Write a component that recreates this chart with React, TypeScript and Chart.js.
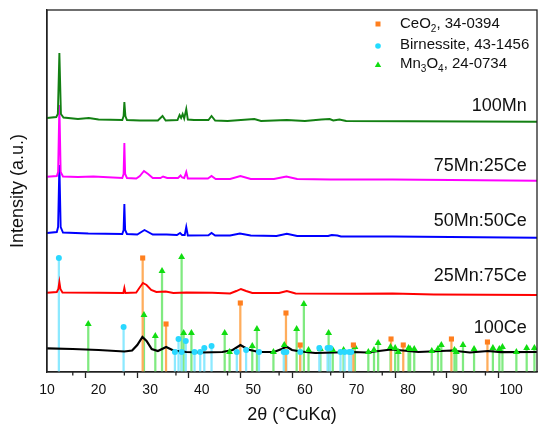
import { useEffect, useRef } from "react";
import { Chart, registerables } from "chart.js";

Chart.register(...registerables);

type Pt = [number, number];

// 2θ (deg), intensity (a.u., offset stacked)
const sampleNames = ["100Mn", "75Mn:25Ce", "50Mn:50Ce", "25Mn:75Ce", "100Ce"];

const mn100: Pt[] = [
  [10, 254], [11.8, 255], [12.1, 258], [12.4, 319], [12.7, 258], [13.2, 254.5], [16, 253],
  [18.1, 254], [20, 252.5], [24.6, 252], [24.85, 256], [25.0, 270], [25.2, 256], [25.5, 252],
  [28, 251.5], [31.5, 251.5], [32.4, 256], [33, 251.5], [35.3, 252], [35.7, 257], [36.0, 254],
  [36.3, 258], [36.6, 253.5], [37.0, 263], [37.3, 252.5], [38.5, 252], [41.3, 252], [41.9, 256],
  [42.6, 251.5], [45, 251], [50.2, 253], [51.5, 251], [56.5, 252], [60, 251], [63.2, 252.5],
  [64.8, 253], [65.5, 251.5], [66.7, 252.5], [68, 251], [80, 250.8], [105, 250.3],
];

const mn75ce25: Pt[] = [
  [10, 195.3], [11.9, 196], [12.15, 200], [12.4, 267], [12.65, 200], [13.1, 195.5], [16, 195],
  [19, 195.5], [24.6, 194], [24.85, 198], [25.0, 229], [25.15, 198], [25.5, 194], [27.3, 193.5],
  [28, 196], [28.8, 201], [29.6, 198], [30.5, 194], [32, 194], [32.5, 195.5], [33.3, 194],
  [35.4, 194], [35.9, 196.5], [36.2, 194.5], [36.6, 194], [37.0, 200], [37.3, 193.5], [41.2, 193.5],
  [41.9, 196], [42.7, 193], [45.5, 193], [47.5, 196], [49.5, 193], [54, 193], [56.4, 195.5],
  [58.5, 193], [65, 192.5], [77, 192.5], [105, 191.3],
];

const mn50ce50: Pt[] = [
  [10, 139], [11.9, 140], [12.15, 145], [12.4, 207], [12.65, 145], [13.1, 139.5], [18, 138.5],
  [24.6, 138], [24.85, 142], [25.0, 168], [25.15, 142], [25.5, 138], [27.5, 137.5], [28.9, 142],
  [30.5, 137.5], [33.2, 137.5], [35.2, 137], [35.8, 139], [36.2, 137], [36.7, 137], [37.0, 145],
  [37.3, 136.5], [41.3, 136.8], [41.9, 139], [42.6, 136.5], [45.5, 136.5], [47.4, 138.5],
  [49.5, 136.5], [54.5, 136], [56.5, 138.3], [58.5, 136], [64.5, 136], [65.2, 137], [66.3, 136.5],
  [67, 135.5], [77, 135.5], [105, 134.3],
];

const mn25ce75: Pt[] = [
  [10, 79.3], [11.9, 80], [12.2, 83], [12.4, 90], [12.6, 83], [13, 79.5], [20, 79.3], [24.8, 79],
  [25.0, 84], [25.2, 79], [27.3, 79.5], [27.9, 84], [28.6, 89], [29.3, 87], [30.2, 82], [31.2, 80],
  [33.0, 80.5], [34.5, 79], [37, 79.5], [42, 79.3], [45.5, 78.5], [46.7, 81], [47.6, 83], [48.6, 81],
  [49.8, 79], [55, 79], [56.5, 81], [58.2, 78.5], [70, 78.2], [77, 78.5], [85, 77.5], [105, 77],
];

const ce100: Pt[] = [
  [10, 23.7], [15, 23], [20, 22], [25, 20.5], [26.5, 21.5], [27.5, 27], [28.5, 35], [29.3, 31],
  [30.3, 23], [31.5, 21], [33.1, 25], [34.5, 21.5], [37, 20], [40, 19.5], [44, 20], [46, 22],
  [47.5, 27], [49, 22.5], [51, 20], [54, 20], [55.5, 23], [56.4, 25.5], [57.5, 22], [59.2, 20.5],
  [62, 19], [69.5, 20], [72, 19.5], [76.7, 22.5], [79, 21.5], [82, 20], [88.5, 21.5], [92, 19.5],
  [95.5, 21], [98, 19.8], [105, 20],
];

// reference patterns: position, relative height
const ceo2Ref: Pt[] = [
  [28.55, 114], [33.08, 48], [47.48, 69], [56.33, 59], [59.09, 27], [69.4, 27], [76.7, 33],
  [79.07, 27], [88.41, 33], [95.39, 30],
];

const birnessiteRef: Pt[] = [
  [12.3, 114], [24.85, 45], [34.8, 20], [35.5, 33], [36.1, 20], [36.9, 31], [38.6, 20], [39.7, 20],
  [40.5, 24], [41.9, 26], [46.8, 20], [48.6, 22], [51.1, 20], [55.9, 20], [56.4, 20], [59.1, 20],
  [62.8, 24], [64.4, 24], [64.9, 24], [66.9, 20], [67.7, 20], [68.6, 20], [69.0, 20],
];

const mn3o4Ref: Pt[] = [
  [18.0, 48], [28.8, 57], [31.0, 36], [32.3, 101], [36.1, 115], [36.5, 39], [38.0, 39], [44.45, 39],
  [45.4, 20], [49.8, 26], [50.7, 43], [53.9, 20], [56.0, 27], [58.4, 43], [59.8, 68], [60.7, 22],
  [63.0, 23], [64.6, 39], [65.4, 22], [67.5, 22], [69.7, 25], [72.3, 20], [73.4, 22], [74.2, 29],
  [76.6, 25], [77.5, 24], [78.1, 20], [80.1, 24], [80.4, 23], [81.2, 23], [84.6, 21], [85.8, 23],
  [86.45, 27], [89.0, 22], [89.35, 20], [90.65, 27], [92.8, 23], [96.45, 24], [97.7, 23], [98.3, 25],
  [101.0, 20], [103.0, 24], [104.5, 24],
];

const xTickLabels = [10, 20, 30, 40, 50, 60, 70, 80, 90, 100];

const FONT = "'Liberation Sans', Arial, sans-serif";
const traceColors = ["#138013", "#ff00ff", "#0000ff", "#ff0000", "#000000"];
const traceWidths = [1.9, 1.9, 1.9, 1.9, 2.2];
const labelY = [266, 206, 151, 96, 44];

const toXY = (pts: Pt[]) => pts.map(([x, y]) => ({ x, y }));

const legendRows = [
  { parts: [["CeO"], ["2", "sub"], [", 34-0394"]], color: "#ff7f1e", shape: "rect" },
  { parts: [["Birnessite, 43-1456"]], color: "#22dcff", shape: "circle" },
  { parts: [["Mn"], ["3", "sub"], ["O"], ["4", "sub"], [", 24-0734"]], color: "#10dd10", shape: "triangle" },
];

const decorPlugin = {
  id: "decor",
  afterDraw(chart: any) {
    const { ctx, chartArea: a, scales } = chart;
    const xs = scales.x;
    const ys = scales.y;
    ctx.save();
    // frame
    ctx.strokeStyle = "#222";
    ctx.lineWidth = 1.3;
    ctx.strokeRect(a.left, a.top, a.right - a.left, a.bottom - a.top);
    // minor ticks
    xTickLabels.forEach((v) => {
      if (v + 5 > 100) return;
      const px = xs.getPixelForValue(v + 5);
      ctx.beginPath();
      ctx.moveTo(px, a.bottom);
      ctx.lineTo(px, a.bottom + 3.5);
      ctx.stroke();
    });
    // sample labels
    ctx.fillStyle = "#111";
    ctx.font = `18px ${FONT}`;
    ctx.textAlign = "right";
    ctx.textBaseline = "middle";
    sampleNames.forEach((name, i) => {
      ctx.fillText(name, xs.getPixelForValue(103), ys.getPixelForValue(labelY[i]));
    });
    // legend
    ctx.textAlign = "left";
    const rowY = [24, 45, 64];
    legendRows.forEach((row, i) => {
      const y = rowY[i];
      const mx = 378;
      ctx.fillStyle = row.color;
      ctx.beginPath();
      if (row.shape === "rect") ctx.rect(mx - 2.5, y - 2.5, 5, 5);
      else if (row.shape === "circle") ctx.arc(mx, y + 1, 2.8, 0, Math.PI * 2);
      else {
        ctx.moveTo(mx, y - 2.5);
        ctx.lineTo(mx + 3.2, y + 3);
        ctx.lineTo(mx - 3.2, y + 3);
        ctx.closePath();
      }
      ctx.fill();
      ctx.fillStyle = "#111";
      let tx = 400;
      row.parts.forEach(([t, kind]) => {
        const sub = kind === "sub";
        ctx.font = sub ? `10px ${FONT}` : `15px ${FONT}`;
        ctx.fillText(t, tx, sub ? y + 5 : y);
        tx += ctx.measureText(t).width;
      });
    });
    ctx.restore();
  },
};

function App() {
  const canvasRef = useRef<HTMLCanvasElement | null>(null);

  useEffect(() => {
    if (!canvasRef.current) return;
    const traces = [mn100, mn75ce25, mn50ce50, mn25ce75, ce100];
    const refs: [Pt[], string, string, string, number][] = [
      [ceo2Ref, "#ffad5c", "#ff7f1e", "rect", 3.6],
      [birnessiteRef, "#8ce9ff", "#2ad8ff", "circle", 3],
      [mn3o4Ref, "#80ea80", "#11dd11", "triangle", 4],
    ];
    const datasets: any[] = [];
    refs.forEach(([pts, , mark, shape, r], i) => {
      datasets.push({
        type: "scatter",
        data: toXY(pts),
        pointStyle: shape,
        pointRadius: r,
        pointBackgroundColor: mark,
        pointBorderWidth: 0,
        order: i,
      });
    });
    traces.forEach((pts, i) => {
      datasets.push({
        type: "line",
        label: sampleNames[i],
        data: toXY(pts),
        borderColor: traceColors[i],
        borderWidth: traceWidths[i],
        pointRadius: 0,
        tension: 0,
        order: 3 + i,
      });
    });
    refs.forEach(([pts, stem], i) => {
      datasets.push({
        type: "bar",
        data: toXY(pts),
        backgroundColor: stem,
        barThickness: 1.6,
        grouped: false,
        order: 8 + i,
      });
    });

    const chart = new Chart(canvasRef.current, {
      type: "line",
      data: { datasets },
      options: {
        animation: false,
        responsive: true,
        maintainAspectRatio: false,
        layout: { padding: { top: 10, right: 13, left: 0, bottom: 0 } },
        plugins: { legend: { display: false }, tooltip: { enabled: false } },
        scales: {
          x: {
            type: "linear",
            min: 10,
            max: 105,
            offset: false,
            afterFit: (s: any) => {
              s.height = 67;
            },
            grid: {
              drawOnChartArea: false,
              tickLength: 6,
              tickWidth: 1.3,
              tickColor: (c: any) => (xTickLabels.includes(c.tick?.value) ? "#222" : "transparent"),
            },
            border: { color: "#222", width: 1.3 },
            ticks: {
              stepSize: 5,
              autoSkip: false,
              maxRotation: 0,
              padding: 4,
              color: "#111",
              font: { family: FONT, size: 14 },
              callback: (v: any) => (xTickLabels.includes(Number(v)) ? String(v) : ""),
            },
            title: {
              display: true,
              text: "2θ (°CuKα)",
              color: "#111",
              font: { family: FONT, size: 18 },
              padding: { top: 0, bottom: 13 },
            },
          },
          y: {
            min: 0,
            max: 362,
            afterFit: (s: any) => {
              s.width = 47;
            },
            grid: { display: false },
            border: { color: "#222", width: 1.3 },
            ticks: { display: false },
            title: {
              display: true,
              text: "Intensity (a.u.)",
              color: "#111",
              font: { family: FONT, size: 18 },
              padding: { top: 7, bottom: 0 },
            },
          },
        },
      },
      plugins: [decorPlugin],
    });
    return () => chart.destroy();
  }, []);

  return (
    <div style={{ position: "fixed", left: 0, top: 0, width: 550, height: 439, background: "#fff" }}>
      <canvas ref={canvasRef} />
    </div>
  );
}

export default App;
